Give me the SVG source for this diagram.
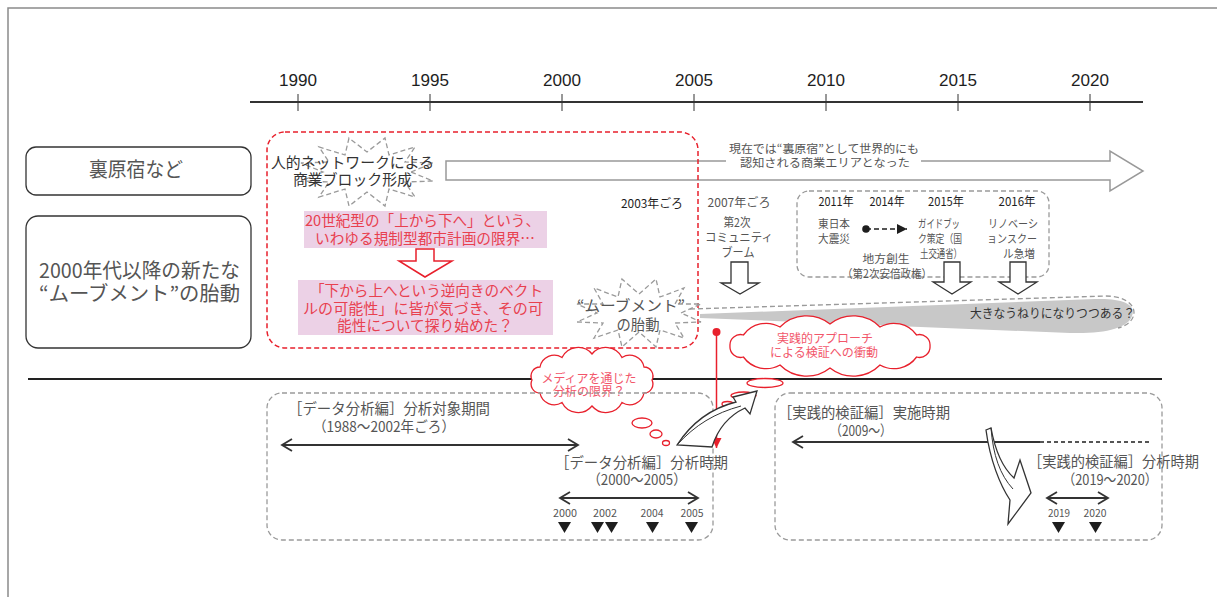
<svg xmlns="http://www.w3.org/2000/svg" width="1217" height="597" viewBox="0 0 1217 597">
<style>
text{font-family:"Noto Sans CJK JP","Noto Sans",sans-serif;}
.g{fill:#555;}
.d{fill:#1e1e1e;}
.r{fill:#e8404f;}
.rc{fill:#f2566a;}
.yr{font-family:"Liberation Sans",Arial,sans-serif;font-size:17px;fill:#1e1e1e;text-anchor:middle;}
.box{fill:#fff;stroke:#333;stroke-width:1.3;}
.gd{fill:none;stroke:#9a9a9a;stroke-width:1.3;stroke-dasharray:5 3;}
.star{fill:none;stroke:#9a9a9a;stroke-width:1.3;stroke-dasharray:5 3;}
.pink{fill:#ecd1e6;}
.hol{fill:#fff;stroke:#333;stroke-width:1.3;}
.cloud{fill:#fff;stroke:#e8202c;stroke-width:1.3;}
.dbl{stroke:#333;stroke-width:2;fill:none;}
.tri{fill:#1e1e1e;}
.m{text-anchor:middle;}
</style>
<defs>
<marker id="chev" markerUnits="userSpaceOnUse" markerWidth="14" markerHeight="16" refX="11" refY="7" orient="auto-start-reverse">
<path d="M1 1 L11 7 L1 13" fill="none" stroke="#333" stroke-width="1.8"/>
</marker>
<marker id="redhead" markerUnits="userSpaceOnUse" markerWidth="12" markerHeight="12" refX="10" refY="5" orient="auto">
<path d="M0 0 L10 5 L0 10 Z" fill="#e8202c"/>
</marker>
<marker id="blkhead" markerUnits="userSpaceOnUse" markerWidth="12" markerHeight="12" refX="10" refY="5" orient="auto">
<path d="M0 0 L10 5 L0 10 Z" fill="#1e1e1e"/>
</marker>
</defs>

<rect x="8" y="8" width="1240" height="620" fill="#fff" stroke="#8a8a8a" stroke-width="1.5"/>

<g id="timeline">
<line x1="250" y1="102" x2="1143" y2="102" stroke="#333" stroke-width="2"/>
<g stroke="#333" stroke-width="1">
<line x1="298" y1="94" x2="298" y2="111"/><line x1="430" y1="94" x2="430" y2="111"/><line x1="562" y1="94" x2="562" y2="111"/><line x1="694" y1="94" x2="694" y2="111"/><line x1="826" y1="94" x2="826" y2="111"/><line x1="958" y1="94" x2="958" y2="111"/><line x1="1090" y1="94" x2="1090" y2="111"/>
</g>
<text class="yr" x="298" y="86" textLength="38" lengthAdjust="spacingAndGlyphs">1990</text>
<text class="yr" x="430" y="86" textLength="38" lengthAdjust="spacingAndGlyphs">1995</text>
<text class="yr" x="562" y="86" textLength="38" lengthAdjust="spacingAndGlyphs">2000</text>
<text class="yr" x="694" y="86" textLength="38" lengthAdjust="spacingAndGlyphs">2005</text>
<text class="yr" x="826" y="86" textLength="38" lengthAdjust="spacingAndGlyphs">2010</text>
<text class="yr" x="958" y="86" textLength="38" lengthAdjust="spacingAndGlyphs">2015</text>
<text class="yr" x="1090" y="86" textLength="38" lengthAdjust="spacingAndGlyphs">2020</text>
</g>

<g id="label-urahara">
<rect class="box" x="26" y="147" width="225" height="48" rx="10"/>
<text class="g" x="89" y="177" font-size="20" textLength="94" lengthAdjust="spacingAndGlyphs">裏原宿など</text>
</g>
<g id="label-movement">
<rect class="box" x="26" y="216" width="225" height="132" rx="12"/>
<text class="g" x="39" y="278" font-size="20" textLength="201" lengthAdjust="spacingAndGlyphs">2000年代以降の新たな</text>
<text class="g" x="39" y="301" font-size="20" textLength="201" lengthAdjust="spacingAndGlyphs">“ムーブメント”の胎動</text>
</g>

<line id="separator" x1="28" y1="379" x2="1162" y2="379" stroke="#222" stroke-width="2"/>

<g id="big-arrow">
<path d="M446 161 L1110 161 L1110 151 L1143 171 L1110 191 L1110 180 L446 180 Z" fill="#fff" stroke="#999" stroke-width="1.5"/>
<rect x="726" y="155" width="195" height="14" fill="#fff"/>
<text class="g m" x="824" y="153" font-size="11.5" textLength="190" lengthAdjust="spacingAndGlyphs">現在では“裏原宿”として世界的にも</text>
<text class="g m" x="825" y="167" font-size="11.5" textLength="170" lengthAdjust="spacingAndGlyphs">認知される商業エリアとなった</text>
</g>

<g id="movement-area">
<rect x="267" y="132" width="431" height="216" rx="18" fill="none" stroke="#e8202c" stroke-width="1.5" stroke-dasharray="5 3"/>
</g>

<g id="network-burst">
<polygon class="star" points="411,172 433,163 405,162 415,147 389,155 385,138 367,152 349,138 345,155 319,147 329,162 301,163 323,172 301,181 329,182 319,197 345,189 349,206 367,192 385,206 389,189 415,197 405,182 433,181"/>
<text x="271" y="168" font-size="15" fill="#333" textLength="163" lengthAdjust="spacingAndGlyphs">人的ネットワークによる</text>
<text x="293" y="185" font-size="15" fill="#333" textLength="119" lengthAdjust="spacingAndGlyphs">商業ブロック形成</text>
</g>

<g id="limit-box">
<rect class="pink" x="304" y="211" width="243" height="37"/>
<text class="r" x="305" y="226" font-size="14.5" textLength="235" lengthAdjust="spacingAndGlyphs">20世紀型の「上から下へ」という、</text>
<text class="r" x="315" y="244" font-size="14.5" textLength="220" lengthAdjust="spacingAndGlyphs">いわゆる規制型都市計画の限界…</text>
</g>
<g id="red-down-arrow">
<path d="M416 249 L434 249 L434 261 L452 261 L425 277 L399 261 L416 261 Z" fill="#fff" stroke="#e8202c" stroke-width="1.5"/>
</g>
<g id="bottomup-box">
<rect class="pink" x="298" y="280" width="255" height="55"/>
<text class="r" x="310" y="296" font-size="14.5" textLength="233" lengthAdjust="spacingAndGlyphs">「下から上へという逆向きのベクト</text>
<text class="r" x="303" y="314" font-size="14.5" textLength="240" lengthAdjust="spacingAndGlyphs">ルの可能性」に皆が気づき、その可</text>
<text class="r" x="337" y="331" font-size="14.5" textLength="176" lengthAdjust="spacingAndGlyphs">能性について探り始めた？</text>
</g>

<g id="label-2003">
<text class="d m" x="652" y="208" font-size="12" textLength="62" lengthAdjust="spacingAndGlyphs">2003年ごろ</text>
</g>

<g id="wave">
<path d="M700 314 L1095 299 C1125 298 1136 305 1132 316 C1128 328 1105 334 1070 333 L700 318 Z" fill="#c8c8c8"/>
<path d="M690 309 L1105 296 C1140 296 1142 322 1118 328" class="gd"/>
<text x="970" y="318" font-size="12" fill="#333" textLength="165" lengthAdjust="spacingAndGlyphs">大きなうねりになりつつある？</text>
</g>

<g id="movement-burst">
<polygon class="star" points="681,313 701,304 675,304 684,288 660,297 656,279 639,294 622,279 618,297 594,288 603,304 577,304 597,313 577,322 603,323 594,338 618,330 622,347 639,332 656,347 660,330 684,338 675,323 701,322"/>
<text class="g m" x="631" y="311" font-size="15" textLength="108" lengthAdjust="spacingAndGlyphs">“ムーブメント”</text>
<text class="g m" x="638" y="330" font-size="15" textLength="43" lengthAdjust="spacingAndGlyphs">の胎動</text>
</g>

<g id="community-boom">
<text class="g m" x="739" y="207" font-size="12" textLength="63" lengthAdjust="spacingAndGlyphs">2007年ごろ</text>
<text class="g m" x="737" y="227" font-size="12" textLength="27" lengthAdjust="spacingAndGlyphs">第2次</text>
<text class="g m" x="739" y="242" font-size="12" textLength="68" lengthAdjust="spacingAndGlyphs">コミュニティ</text>
<text class="g m" x="738" y="257" font-size="12" textLength="33" lengthAdjust="spacingAndGlyphs">ブーム</text>
<path d="M731 262 L748 262 L748 283 L759 283 L740 294 L721 283 L731 283 Z" class="hol"/>
</g>

<g id="policy-box">
<rect class="gd" x="797" y="191" width="252" height="86" rx="12"/>
<text class="d m" x="836" y="206" font-size="12" textLength="35" lengthAdjust="spacingAndGlyphs">2011年</text>
<text class="d m" x="887" y="206" font-size="12" textLength="35" lengthAdjust="spacingAndGlyphs">2014年</text>
<text class="d m" x="946" y="206" font-size="12" textLength="36" lengthAdjust="spacingAndGlyphs">2015年</text>
<text class="d m" x="1017" y="206" font-size="12" textLength="37" lengthAdjust="spacingAndGlyphs">2016年</text>
<text class="g m" x="834" y="228" font-size="11.5" textLength="32" lengthAdjust="spacingAndGlyphs">東日本</text>
<text class="g m" x="834" y="243" font-size="11.5" textLength="32" lengthAdjust="spacingAndGlyphs">大震災</text>
<circle cx="866" cy="229" r="3.8" fill="#1e1e1e"/>
<line x1="866" y1="229" x2="907" y2="229" stroke="#1e1e1e" stroke-width="1.5" stroke-dasharray="5 3" marker-end="url(#blkhead)"/>
<text class="g" x="918" y="228" font-size="11.5" textLength="42" lengthAdjust="spacingAndGlyphs">ガイドブッ</text>
<text class="g" x="918" y="243" font-size="11.5" textLength="44" lengthAdjust="spacingAndGlyphs">ク策定（国</text>
<text class="g" x="920" y="258" font-size="11.5" textLength="42" lengthAdjust="spacingAndGlyphs">土交通省）</text>
<text class="g" x="988" y="228" font-size="11.5" textLength="50" lengthAdjust="spacingAndGlyphs">リノベーシ</text>
<text class="g" x="987" y="243" font-size="11.5" textLength="50" lengthAdjust="spacingAndGlyphs">ョンスクー</text>
<text class="g" x="1003" y="258" font-size="11.5" textLength="32" lengthAdjust="spacingAndGlyphs">ル急増</text>
<text class="g m" x="886" y="263" font-size="11.5" textLength="47" lengthAdjust="spacingAndGlyphs">地方創生</text>
<text class="g m" x="887" y="278" font-size="11.5" textLength="90" lengthAdjust="spacingAndGlyphs">（第2次安倍政権）</text>
</g>
<g id="arrow-2015">
<path d="M944 262 L960 262 L960 282 L971 282 L952 294 L933 282 L944 282 Z" class="hol"/>
</g>
<g id="arrow-2016">
<path d="M1010 262 L1026 262 L1026 282 L1037 282 L1018 294 L999 282 L1010 282 Z" class="hol"/>
</g>

<g id="cloud-media">
<path class="cloud" d="M532 380 A9 9 0 0 1 540 367 A14.5 14.5 0 0 1 562 357.5 A18 18 0 0 1 592 354 A18 18 0 0 1 622 357.5 A14.5 14.5 0 0 1 644 367 A9 9 0 0 1 652 380 A9 9 0 0 1 644 393 A14.5 14.5 0 0 1 622 402.5 A18 18 0 0 1 592 406 A18 18 0 0 1 562 402.5 A14.5 14.5 0 0 1 540 393 A9 9 0 0 1 532 380 Z"/>
<ellipse class="cloud" cx="642" cy="423" rx="10" ry="5"/>
<ellipse class="cloud" cx="656" cy="434" rx="6" ry="4"/>
<ellipse class="cloud" cx="666" cy="443" rx="3.5" ry="2.5"/>
<text class="rc m" x="589" y="383" font-size="12" textLength="95" lengthAdjust="spacingAndGlyphs">メディアを通じた</text>
<text class="rc m" x="589" y="396" font-size="12" textLength="72" lengthAdjust="spacingAndGlyphs">分析の限界？</text>
</g>

<g id="cloud-practice">
<path class="cloud" d="M730 346 A10.5 10.5 0 0 1 743.4 335 A28 28 0 0 1 780 327 A37.5 37.5 0 0 1 830 324 A37.5 37.5 0 0 1 880 327 A28 28 0 0 1 916.6 335 A10.5 10.5 0 0 1 930 346 A10.5 10.5 0 0 1 916.6 357 A28 28 0 0 1 880 365 A37.5 37.5 0 0 1 830 368 A37.5 37.5 0 0 1 780 365 A28 28 0 0 1 743.4 357 A10.5 10.5 0 0 1 730 346 Z"/>
<ellipse class="cloud" cx="765" cy="383" rx="18" ry="4.5"/>
<ellipse class="cloud" cx="743.5" cy="395.5" rx="12.5" ry="3.5"/>
<ellipse class="cloud" cx="727.5" cy="404" rx="5.5" ry="2.5"/>
<text class="rc m" x="825" y="343" font-size="12" textLength="96" lengthAdjust="spacingAndGlyphs">実践的アプローチ</text>
<text class="rc m" x="824" y="357" font-size="12" textLength="108" lengthAdjust="spacingAndGlyphs">による検証への衝動</text>
</g>

<g id="data-analysis">
<rect class="gd" x="267" y="393" width="446" height="147" rx="15"/>
<text class="g" x="288" y="414" font-size="14.5" textLength="202" lengthAdjust="spacingAndGlyphs">［データ分析編］分析対象期間</text>
<text class="g m" x="384" y="432" font-size="14.5" textLength="142" lengthAdjust="spacingAndGlyphs">（1988～2002年ごろ）</text>
<text class="g" x="555" y="468" font-size="14.5" textLength="173" lengthAdjust="spacingAndGlyphs">［データ分析編］分析時期</text>
<text class="g m" x="637" y="485" font-size="14.5" textLength="99" lengthAdjust="spacingAndGlyphs">（2000～2005）</text>
<text class="g m" x="565" y="517" font-size="10" textLength="24" lengthAdjust="spacingAndGlyphs">2000</text>
<text class="g m" x="605" y="517" font-size="10" textLength="24" lengthAdjust="spacingAndGlyphs">2002</text>
<text class="g m" x="652" y="517" font-size="10" textLength="23" lengthAdjust="spacingAndGlyphs">2004</text>
<text class="g m" x="692" y="517" font-size="10" textLength="23" lengthAdjust="spacingAndGlyphs">2005</text>
<polygon class="tri" points="558,522 571,522 564.5,533"/>
<polygon class="tri" points="591,522 604,522 597.5,533"/>
<polygon class="tri" points="605,522 618,522 611.5,533"/>
<polygon class="tri" points="646,522 659,522 652.5,533"/>
<polygon class="tri" points="685,522 698,522 691.5,533"/>
</g>

<g id="practice-verification">
<rect class="gd" x="775" y="393" width="387" height="147" rx="15"/>
<text class="g" x="778" y="418" font-size="14.5" textLength="172" lengthAdjust="spacingAndGlyphs">［実践的検証編］実施時期</text>
<text class="g m" x="861" y="436" font-size="14.5" textLength="62" lengthAdjust="spacingAndGlyphs">（2009～）</text>
<text class="g" x="1028" y="467" font-size="14.5" textLength="171" lengthAdjust="spacingAndGlyphs">［実践的検証編］分析時期</text>
<text class="g m" x="1110" y="485" font-size="14.5" textLength="95" lengthAdjust="spacingAndGlyphs">（2019～2020）</text>
<text class="g m" x="1059" y="517" font-size="10" textLength="22" lengthAdjust="spacingAndGlyphs">2019</text>
<text class="g m" x="1095" y="517" font-size="10" textLength="23" lengthAdjust="spacingAndGlyphs">2020</text>
<polygon class="tri" points="1052,522 1065,522 1058.5,533"/>
<polygon class="tri" points="1089,522 1102,522 1095.5,533"/>
</g>

<g id="connectors">
<line class="dbl" x1="282" y1="445" x2="578" y2="445" marker-start="url(#chev)" marker-end="url(#chev)"/>
<line class="dbl" x1="560" y1="498" x2="698" y2="498" marker-start="url(#chev)" marker-end="url(#chev)"/>
<line class="dbl" x1="1047" y1="498" x2="1108" y2="498" marker-start="url(#chev)" marker-end="url(#chev)"/>
<line class="dbl" x1="1040" y1="442" x2="793" y2="442" marker-end="url(#chev)"/>
<line x1="1040" y1="442" x2="1152" y2="442" stroke="#555" stroke-width="2" stroke-dasharray="4 3"/>
<circle cx="716.5" cy="332" r="4" fill="#e8202c"/>
<line x1="716.5" y1="332" x2="716.5" y2="448" stroke="#e8202c" stroke-width="1.5" marker-end="url(#redhead)"/>
<path class="hol" d="M677 445 C692 422 712 408 736 402 L733 397 L757 391 L750 414 L745 408 C730 415 718 428 712 447 Z"/>
<path d="M677 445 C695 425 715 413 741 406" fill="none" stroke="#333" stroke-width="1"/>
<path class="hol" d="M986 430 L991 428 C995 450 1003 468 1014 478 L1020 460 L1031 493 L1008 524 L1010 500 C1000 485 990 460 986 430 Z"/>
<path d="M991 428 C993 455 1000 475 1013 489" fill="none" stroke="#333" stroke-width="1"/>
</g>
</svg>
